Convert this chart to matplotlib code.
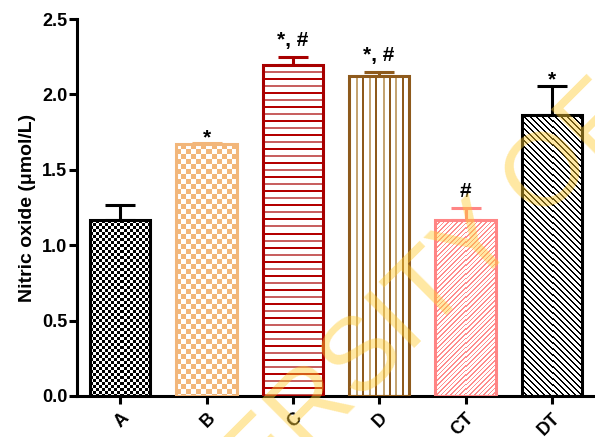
import numpy as np
import matplotlib
matplotlib.use('Agg')
import matplotlib.pyplot as plt

plt.rcParams['font.family'] = ['Liberation Sans', 'DejaVu Sans']
plt.rcParams['font.weight'] = 'bold'

groups = ['A', 'B', 'C', 'D', 'CT', 'DT']
means = [1.167, 1.671, 2.195, 2.122, 1.167, 1.863]
errors = [0.10, 0.005, 0.051, 0.024, 0.080, 0.195]
marks = ['', '*', '*, #', '*, #', '#', '*']

edge_colors = ['black', '#F2B67A', '#A80000', '#8E5A1C', '#FF8585', 'black']
face_colors = ['white', '#F2B67A', 'white', 'white', 'white', 'white']

fig = plt.figure(figsize=(5.95, 4.37), dpi=100)
ax = fig.add_axes([77 / 595, 41 / 437, 518 / 595, 377 / 437])
x = np.arange(len(groups))
ax.set_xlim(-0.5, 5.5)
ax.set_ylim(0, 2.5)


def fill_texture(patch, kind):
    # paint a pixel pattern inside a bar rectangle
    x0, y0 = patch.get_x(), patch.get_y()
    w, h = patch.get_width(), patch.get_height()
    (px0, py0), (px1, py1) = ax.transData.transform([(x0, y0), (x0 + w, y0 + h)])
    nw, nh = int(round(px1 - px0)), int(round(py1 - py0))
    jj, ii = np.meshgrid(np.arange(nw), np.arange(nh))
    img = np.ones((nh, nw, 3))
    if kind == 'A':
        on = ((ii // 3) + (jj // 3)) % 2 == 0
        img[on] = (0, 0, 0)
    elif kind == 'B':
        img[:] = matplotlib.colors.to_rgb('#F2B67A')
        on = ((ii // 5) + (jj // 5)) % 2 == 0
        img[on] = (1, 1, 1)
    elif kind == 'C':
        k = ii // 7
        on = (ii % 7) < 2
        img[on & (k % 2 == 0)] = matplotlib.colors.to_rgb('#B40000')
        img[on & (k % 2 == 1)] = matplotlib.colors.to_rgb('#C86060')
    elif kind == 'D':
        k = (jj / 6.4).astype(int)
        on = (jj % 6.4) < 2
        img[on & (k % 2 == 0)] = matplotlib.colors.to_rgb('#8E5A1C')
        img[on & (k % 2 == 1)] = matplotlib.colors.to_rgb('#C4A472')
    elif kind == 'CT':
        on = ((ii + jj) % 4.6) < 1.6
        img[on] = matplotlib.colors.to_rgb('#FF8C8C')
    elif kind == 'DT':
        on = ((jj - ii) % 6) < 2
        img[on] = (0, 0, 0)
    ax.imshow(img, extent=(x0, x0 + w, y0, y0 + h), interpolation='nearest',
              aspect='auto', zorder=2.5)


bars = ax.bar(x, means, width=0.7, color=face_colors, linewidth=0, zorder=2)
for patch, kind in zip(bars, groups):
    fill_texture(patch, kind)
ax.bar(x, means, width=0.7, fill=False, edgecolor=edge_colors, linewidth=2.2, zorder=3)

for xi, m, e, c in zip(x, means, errors, edge_colors):
    ax.errorbar(xi, m, yerr=[[0], [e]], fmt='none', ecolor=c, elinewidth=2.2,
                capsize=11, capthick=2.2, zorder=1.5)

for xi, m, e, lab in zip(x, means, errors, marks):
    if not lab:
        continue
    off = 8 if '#' in lab else 0
    ax.annotate(lab, (xi, m + e), xytext=(0, off), textcoords='offset points',
                ha='center', va='baseline', fontsize=15, fontweight='bold')

ax.set_xlim(-0.5, 5.5)
ax.set_ylim(0, 2.5)
ax.set_yticks([0, 0.5, 1.0, 1.5, 2.0, 2.5])
ax.set_yticklabels(['0.0', '0.5', '1.0', '1.5', '2.0', '2.5'], fontsize=13, fontweight='bold')
ax.set_xticks(x)
ax.set_xticklabels(groups, fontsize=13, fontweight='bold', rotation=45,
                   ha='right', rotation_mode='anchor')
ax.tick_params(axis='y', length=6, width=2.2, pad=1)
ax.tick_params(axis='x', length=6, width=2.2, pad=4)
for side in ['top', 'right']:
    ax.spines[side].set_visible(False)
for side in ['left', 'bottom']:
    ax.spines[side].set_linewidth(2.2)
ax.set_ylabel('Nitric oxide (μmol/L)', fontsize=14, fontweight='bold', labelpad=4)

# faint watermark across the plot
fig.text(85 / 595, -240 / 437, 'UNIVERSITY OF', fontsize=74, fontweight='normal',
         color='#FFCC33', alpha=0.45, rotation=45, rotation_mode='anchor',
         ha='left', va='baseline', zorder=10)

fig.savefig('out.png', dpi=100)
